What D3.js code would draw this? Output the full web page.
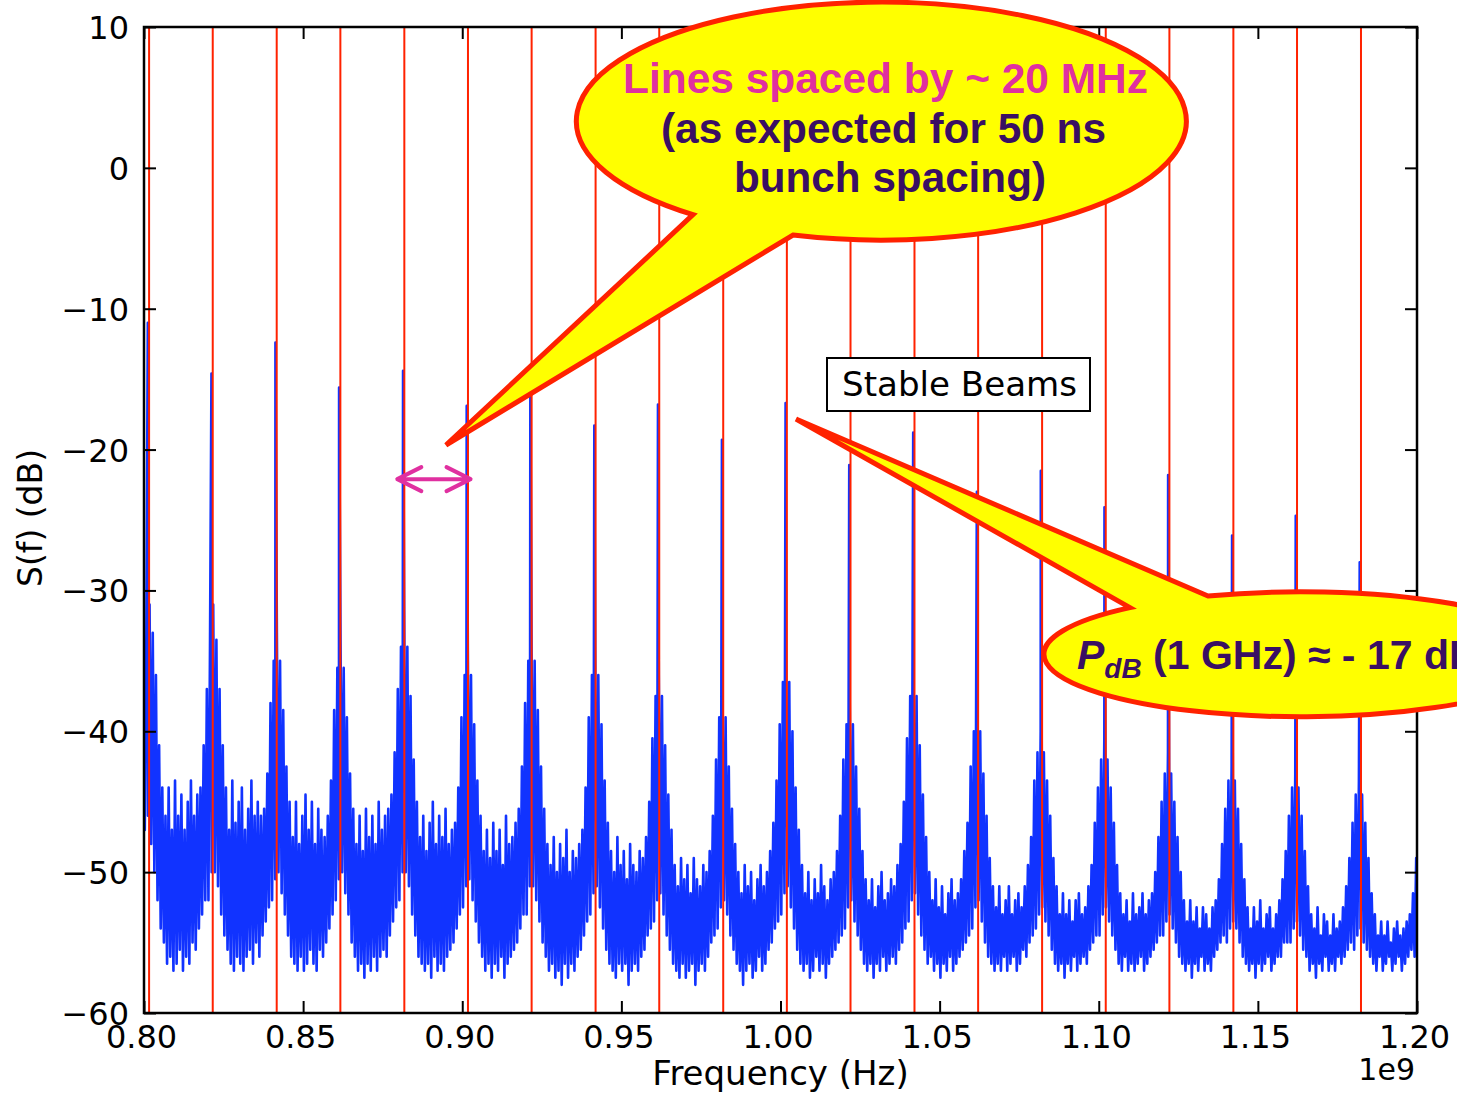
<!DOCTYPE html>
<html>
<head>
<meta charset="utf-8">
<script src="https://cdn.jsdelivr.net/npm/d3@7"></script>
<style>
  body { margin: 0; background: #fff; }
  svg text { font-family: "DejaVu Sans", sans-serif; fill: #000; }
</style>
</head>
<body>
<div id="chart"></div>
<script>
// ---- data -------------------------------------------------------------
const xTicks = [0.80, 0.85, 0.90, 0.95, 1.00, 1.05, 1.10, 1.15, 1.20]; // x 1e9 Hz
const yTicks = [10, 0, -10, -20, -30, -40, -50, -60];

// harmonics of the 20.04 MHz bunch frequency (red lines), MHz
const lineMHz = [801.6, 821.6, 841.7, 861.7, 881.8, 901.8, 921.8, 941.9, 961.9, 982.0,
                 1002.0, 1022.0, 1042.1, 1062.1, 1082.2, 1102.2, 1122.2, 1142.3, 1162.3, 1182.4];

// narrow spectral lines (tip of each spike)
const peakMHz = [801.2, 821.2, 841.3, 861.3, 881.4, 901.4, 921.4, 941.5, 961.5, 981.6,
                 1001.6, 1021.6, 1041.7, 1061.7, 1081.8, 1101.8, 1121.8, 1141.9, 1161.9, 1182.0];
const peakDb = [-11, -14.6, -12.4, -15.6, -14.4, -16.9, -15.5, -18.3, -16.8, -19.3,
                -16.7, -21.1, -18.8, -23, -21.5, -24.1, -21.8, -26.1, -24.7, -28];

// trace max / min in 1 MHz bins, 800 ... 1200 MHz
const binStartMHz = 800;
const binStepMHz = 1;
const binMaxDb = [
  -36,-33,-31,-33,-36,-41,-44,-46,-44,-47,-43.5,-46,-44.5,-47,-45,-43.5,-46,-44.5,-44,-41,
  -37,-33.5,-31,-33.5,-37,-41,-44,-47,-43.5,-46.5,-45,-44,-47,-45.5,-43.5,-46,-45,-46,-45.5,-43,
  -38,-35,-33,-35,-38.5,-42.5,-45,-47.5,-45,-48,-46,-44.5,-47,-45,-48,-45.5,-47,-47.5,-46,-43.5,
  -38.5,-35.5,-33.5,-35.5,-39,-43,-45.5,-48,-46,-48.5,-45.5,-47.5,-46,-48,-45,-47,-46,-45.5,-44.5,-41.5,
  -37,-34,-31.5,-34,-37.5,-42,-45,-47.5,-46,-48.5,-46.5,-45,-48,-46,-47.5,-45.5,-48,-47,-46.5,-44,
  -39,-36,-34,-36,-39.5,-43.5,-46,-48.5,-47,-49,-46.5,-48.5,-47,-49.5,-46,-48,-47.5,-46.5,-45.5,-42.5,
  -38,-35,-33,-35,-38.5,-42.5,-45.5,-48,-49.5,-47.5,-50,-48,-49,-47,-50,-48.5,-49,-48,-47,-44,
  -39,-36,-34,-36,-39.5,-43.5,-46.5,-48.5,-50,-47.5,-49.5,-48.5,-50.5,-48,-49.5,-50,-48.5,-49,-47.5,-45,
  -40.5,-37.5,-36,-37.5,-41,-44.5,-47,-49.5,-51,-49,-50.5,-49.5,-51.5,-49,-50.5,-51,-49.5,-50,-48.5,-46,
  -42,-39,-37.5,-39,-42.5,-45.5,-48,-50,-51.5,-49.5,-51,-50,-52,-50.5,-49.5,-51,-50,-48.5,-46.5,-43.5,
  -39.5,-36.5,-34.5,-36.5,-40,-44,-47,-49.5,-51.5,-50,-52,-50.5,-51.5,-49.5,-51,-52,-50.5,-50,-48.5,-46,
  -42,-39.5,-38,-39.5,-42.5,-45.5,-48.5,-50.5,-52,-50.5,-52.5,-51,-50,-52,-51.5,-50.5,-51,-49.5,-48,-45,
  -40.5,-37.5,-36,-37.5,-41,-44.5,-47.5,-50,-52,-50.5,-52.5,-51,-53,-51.5,-50.5,-52,-51.5,-50.5,-48.5,-46.5,
  -42.5,-40,-38.5,-40,-43,-46,-49,-51,-52.5,-51,-53,-52,-51,-53,-52,-51.5,-52.5,-51,-49.5,-47.5,
  -43.5,-41.5,-40,-41.5,-43.5,-46,-49,-51,-53,-51.5,-53,-52,-53.5,-52,-51.5,-53,-52.5,-51,-49.5,-46.5,
  -44,-42,-40.5,-42,-44,-46.5,-49.5,-51.5,-53,-52,-53.5,-51.5,-53,-52.5,-51.5,-53,-52,-51.5,-50,-47.5,
  -45,-43,-41.5,-43,-45,-47.5,-50,-52,-53.5,-52,-53.5,-52.5,-54,-52.5,-53,-54,-52.5,-52,-50.5,-48,
  -45.5,-43.5,-42.5,-43.5,-45.5,-48,-50.5,-52.5,-54,-52.5,-53.5,-52,-54,-53,-52.5,-54,-53,-52,-50.5,-48.5,
  -46,-44,-43,-44,-46,-48.5,-51,-53,-54,-52.5,-54.5,-53,-53.5,-54.5,-53,-54,-53.5,-52.5,-51,-49,
  -46.5,-44.5,-43.5,-44.5,-46.5,-49,-51.5,-53,-54.5,-53.5,-54.5,-53.5,-55,-54,-53.5,-54.5,-54,-53.5,-53,-51.5,
  -49
];
const binMinDb = [
  -47,-46,-48,-50,-52,-54,-55,-56.5,-56,-57,-56.5,-55.5,-57,-56,-56.5,-55,-55.5,-54,-53,-52,
  -52,-50,-50,-51,-53,-54.5,-55.5,-56.5,-57,-56,-56.5,-57,-56,-55.5,-56.5,-55,-56,-54.5,-53.5,-52.5,
  -52,-50.5,-50,-51.5,-53,-54.5,-56,-56.5,-57,-56,-57,-56.5,-55.5,-56.5,-57,-55.5,-56,-55,-54,-53,
  -52,-50.5,-50,-51.5,-53,-55,-56,-57,-56.5,-57.5,-56.5,-57,-56,-57,-56,-55.5,-56,-54.5,-53.5,-52.5,
  -52,-50,-50,-51,-53,-54.5,-56,-56.5,-57,-56.5,-57.5,-56,-57,-56.5,-57,-56,-55.5,-55,-54,-53,
  -52.5,-51,-50.5,-52,-53.5,-55,-56,-57,-56.5,-57.5,-56.5,-57,-56,-57.5,-56.5,-56,-55.5,-55,-54,-53,
  -53,-51,-51,-52,-53.5,-55,-56,-57,-56.5,-57.5,-57,-58,-56.5,-57.5,-56.5,-57,-56,-55.5,-54.5,-53.5,
  -53,-51.5,-51,-52.5,-54,-55.5,-56.5,-57,-57.5,-56.5,-57,-56.5,-58,-57,-56.5,-57,-56,-55.5,-54.5,-54,
  -53.5,-52,-51.5,-53,-54.5,-55.5,-56.5,-57,-57.5,-56.5,-57.5,-57,-56.5,-58,-57,-56.5,-57,-56,-55,-54.5,
  -54,-52.5,-52,-53,-54.5,-55.5,-56.5,-57,-58,-57,-56.5,-57.5,-57,-56,-57,-56.5,-55.5,-55,-54,-53.5,
  -53,-51.5,-51,-52.5,-54,-55.5,-56.5,-57,-56.5,-57.5,-57,-56,-57,-56.5,-57.5,-56.5,-56,-55.5,-55,-54.5,
  -54,-52.5,-52,-53.5,-54.5,-55.5,-56.5,-57,-56.5,-57.5,-56.5,-57,-56,-57,-56.5,-56,-56.5,-55.5,-55,-54,
  -53.5,-52,-51.5,-53,-54.5,-55.5,-56.5,-56,-57,-56.5,-57.5,-56.5,-57,-56,-57,-56.5,-56,-55.5,-55,-54.5,
  -54,-52.5,-52,-53.5,-55,-56,-56.5,-57,-56.5,-57,-56,-57,-56.5,-56,-57,-56.5,-55.5,-56,-55,-54.5,
  -54,-53,-52.5,-53.5,-54.5,-55.5,-56.5,-57,-56.5,-57.5,-56.5,-57,-56,-57,-56.5,-56,-56.5,-55.5,-55,-54.5,
  -54.5,-53,-52.5,-53.5,-54.5,-55.5,-56.5,-57,-56,-57,-56.5,-57,-56.5,-56,-57,-56.5,-56,-55.5,-55,-54.5,
  -54.5,-53.5,-53,-54,-55,-56,-56.5,-57,-56.5,-57.5,-56.5,-57,-56,-57,-56.5,-57,-56,-55.5,-55,-54.5,
  -55,-54,-53.5,-54,-55,-56,-56.5,-57,-56.5,-57.5,-56.5,-57,-56.5,-56,-57,-56.5,-56,-56,-55,-55,
  -55,-54,-53.5,-54.5,-55.5,-56,-57,-56.5,-57.5,-56.5,-57,-56,-57,-56.5,-57,-56,-56.5,-56,-55.5,-55,
  -55.5,-54.5,-54,-55,-55.5,-56,-56.5,-57,-56,-57,-56.5,-56,-57,-56.5,-56,-57,-56.5,-56,-55.5,-56,
  -54
];

// ---- chart ------------------------------------------------------------
const W = 1457, H = 1094;
const plot = { left: 144, right: 1417, top: 27, bottom: 1013 };

const svg = d3.select("#chart").append("svg")
    .attr("width", W)
    .attr("height", H);

const x = d3.scaleLinear().domain([0.8, 1.2]).range([plot.left, plot.right]);
const y = d3.scaleLinear().domain([-60, 10]).range([plot.bottom, plot.top]);

svg.append("clipPath").attr("id", "plot-clip")
  .append("rect")
    .attr("x", plot.left).attr("y", plot.top)
    .attr("width", plot.right - plot.left)
    .attr("height", plot.bottom - plot.top);

const gPlot = svg.append("g").attr("clip-path", "url(#plot-clip)");

// spectrum trace: max and min of each bin, plus the narrow line tips
const pts = [];
binMaxDb.forEach((v, i) => {
  const f = binStartMHz + i * binStepMHz;
  pts.push([f - 0.25, v]);
  pts.push([f + 0.25, binMinDb[i]]);
});
peakMHz.forEach((f, i) => pts.push([f, peakDb[i]]));
pts.sort((a, b) => a[0] - b[0]);

const trace = d3.line()
    .x(d => x(d[0] / 1000))
    .y(d => y(d[1]));

gPlot.append("path")
    .datum(pts)
    .attr("d", trace)
    .attr("fill", "none")
    .attr("stroke", "#1133ff")
    .attr("stroke-width", 2.6)
    .attr("stroke-linejoin", "round");

// harmonic markers
gPlot.selectAll("line.harm")
  .data(lineMHz)
  .join("line")
    .attr("class", "harm")
    .attr("x1", d => x(d / 1000))
    .attr("x2", d => x(d / 1000))
    .attr("y1", y(10))
    .attr("y2", y(-60))
    .attr("stroke", "#ff2200")
    .attr("stroke-width", 2);

// axes (ticks inside, on all four sides)
function styleAxis(g) {
  g.select(".domain").remove();
  g.selectAll(".tick line").attr("stroke", "#000").attr("stroke-width", 2);
  g.selectAll(".tick text").style("font-size", "32px").attr("fill", "#000");
}

svg.append("g")
    .attr("transform", `translate(0,${plot.bottom})`)
    .call(d3.axisBottom(x).tickValues(xTicks).tickFormat(d3.format(".2f"))
          .tickSize(-12).tickPadding(12))
    .call(styleAxis)
    .call(g => g.selectAll(".tick text").attr("dx", "-3"));

svg.append("g")
    .attr("transform", `translate(0,${plot.top})`)
    .call(d3.axisTop(x).tickValues(xTicks).tickFormat("").tickSize(-12))
    .call(styleAxis);

svg.append("g")
    .attr("transform", `translate(${plot.left},0)`)
    .call(d3.axisLeft(y).tickValues(yTicks).tickFormat(d3.format("d"))
          .tickSize(-12).tickPadding(15))
    .call(styleAxis)
    .call(g => g.selectAll(".tick text").attr("dy", "0.36em"));

svg.append("g")
    .attr("transform", `translate(${plot.right},0)`)
    .call(d3.axisRight(y).tickValues(yTicks).tickFormat("").tickSize(-12))
    .call(styleAxis);

svg.append("rect")
    .attr("x", plot.left).attr("y", plot.top)
    .attr("width", plot.right - plot.left)
    .attr("height", plot.bottom - plot.top)
    .attr("fill", "none")
    .attr("stroke", "#000")
    .attr("stroke-width", 2.5);

// axis labels
svg.append("text")
    .attr("x", (plot.left + plot.right) / 2)
    .attr("y", 1085)
    .attr("text-anchor", "middle")
    .style("font-size", "34px")
    .text("Frequency (Hz)");

svg.append("text")
    .attr("transform", "translate(42,518) rotate(-90)")
    .attr("text-anchor", "middle")
    .style("font-size", "33px")
    .text("S(f) (dB)");

svg.append("text")
    .attr("x", plot.right - 2)
    .attr("y", 1080)
    .attr("text-anchor", "end")
    .style("font-size", "30px")
    .text("1e9");

// "Stable Beams" box
svg.append("rect")
    .attr("x", 827).attr("y", 358)
    .attr("width", 263).attr("height", 53)
    .attr("fill", "#fff")
    .attr("stroke", "#000")
    .attr("stroke-width", 2);
svg.append("text")
    .attr("x", 842).attr("y", 396)
    .attr("textLength", 235)
    .attr("lengthAdjust", "spacingAndGlyphs")
    .style("font-size", "33px")
    .text("Stable Beams");

// ---- slide callouts ---------------------------------------------------
const calloutFill = "#ffff00", calloutStroke = "#ff2200";
const boldFont = "'Liberation Sans', Arial, sans-serif";

// top bubble
svg.append("path")
    .attr("d", "M793,235 A305,119 0 1 0 693,214.7 L446,445 Z")
    .attr("fill", calloutFill)
    .attr("stroke", calloutStroke)
    .attr("stroke-width", 5)
    .attr("stroke-linejoin", "miter");

const topLines = [
  { text: "Lines spaced by ~ 20 MHz", x: 623, y: 93, len: 525, color: "#e030a0" },
  { text: "(as expected for 50 ns", x: 661, y: 143, len: 445, color: "#3a0f63" },
  { text: "bunch spacing)", x: 734, y: 192, len: 312, color: "#3a0f63" }
];
svg.selectAll("text.top-note")
  .data(topLines)
  .join("text")
    .attr("class", "top-note")
    .attr("x", d => d.x)
    .attr("y", d => d.y)
    .attr("textLength", d => d.len)
    .attr("lengthAdjust", "spacingAndGlyphs")
    .style("font-family", boldFont)
    .style("font-weight", "bold")
    .style("font-size", "42px")
    .style("fill", d => d.color)
    .text(d => d.text);

// lower bubble (runs off the right edge, as on the slide)
svg.append("path")
    .attr("d", "M1208,596 A257,62.5 0 1 1 1130,607.6 L796,419 Z")
    .attr("fill", calloutFill)
    .attr("stroke", calloutStroke)
    .attr("stroke-width", 5)
    .attr("stroke-linejoin", "miter");

const pText = svg.append("text")
    .attr("x", 1077).attr("y", 669)
    .style("font-family", boldFont)
    .style("font-weight", "bold")
    .style("font-size", "41px")
    .style("fill", "#3a0f63");
pText.append("tspan").style("font-style", "italic").text("P");
pText.append("tspan").style("font-style", "italic").style("font-size", "28px")
    .attr("dy", 9).text("dB");
pText.append("tspan").attr("dy", -9).text(" (1 GHz) \u2248 - 17 dB");

// spacing arrow between two harmonics
const arrowF = [879.6, 902.6], arrowDb = -22.1;
const ax0 = x(arrowF[0] / 1000), ax1 = x(arrowF[1] / 1000), ay = y(arrowDb);
svg.append("path")
    .attr("d", `M${ax0 + 24},${ay - 12} L${ax0},${ay} L${ax0 + 24},${ay + 12}` +
               ` M${ax0},${ay} L${ax1},${ay}` +
               ` M${ax1 - 24},${ay - 12} L${ax1},${ay} L${ax1 - 24},${ay + 12}`)
    .attr("fill", "none")
    .attr("stroke", "#e030a0")
    .attr("stroke-width", 4)
    .attr("stroke-linecap", "round")
    .attr("stroke-linejoin", "round");
</script>
</body>
</html>
